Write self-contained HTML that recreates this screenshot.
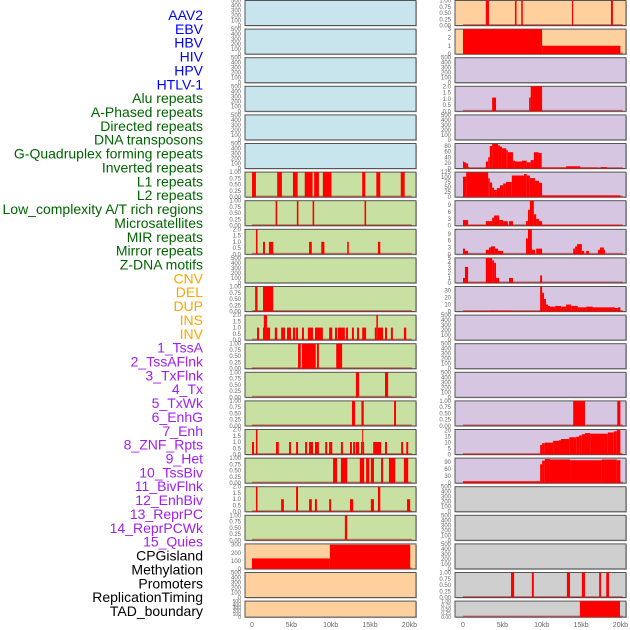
<!DOCTYPE html>
<html><head><meta charset="utf-8"><style>
body{margin:0;background:#fff;width:630px;height:630px;overflow:hidden}
svg{display:block}
</style></head><body>
<svg id="chart" width="630" height="630" font-family="Liberation Sans, sans-serif"></svg>
<script>
const trackLabels=["AAV2","EBV","HBV","HIV","HPV","HTLV-1","Alu repeats","A-Phased repeats","Directed repeats","DNA transposons","G-Quadruplex forming repeats","Inverted repeats","L1 repeats","L2 repeats","Low_complexity A/T rich regions","Microsatellites","MIR repeats","Mirror repeats","Z-DNA motifs","CNV","DEL","DUP","INS","INV","1_TssA","2_TssAFlnk","3_TxFlnk","4_Tx","5_TxWk","6_EnhG","7_Enh","8_ZNF_Rpts","9_Het","10_TssBiv","11_BivFlnk","12_EnhBiv","13_ReprPC","14_ReprPCWk","15_Quies","CPGisland","Methylation","Promoters","ReplicationTiming","TAD_boundary"];
const labelGroups=[6,13,5,15,5];
const groupColors=["#0000ff","#006400","#ffa500","#a020f0","#000000"];
const xTicks=[0,5,10,15,20];
const xTickLabels=["0","5kb","10kb","15kb","20kb"];
const leftFills=["b","b","b","b","b","b","g","g","g","g","g","g","g","g","g","g","g","g","g","o","o","o"];
const rightFills=["o","o","p","p","p","p","p","p","p","p","p","p","p","p","p","p","p","y","y","y","y","y"];
const leftMax=[500,500,500,500,500,500,1,1,2,500,1,2,1,1,1,2,1,2,1,310,500,500];
const rightMax=[1,3,500,2,500,89,125,11,11,5,36,500,500,500,1,21,106,500,500,500,1,1];
// segments [startKb, endKb, value]
const segL6=[[0,0.5,1],[3.2,3.8,1],[5.2,5.8,1],[6.7,7.7,1],[7.9,8.5,1],[9.0,10.1,1],[14.0,14.4,1],[15.8,16.3,1],[18.9,19.4,1]];
const segL7=[[3.0,3.2,1],[5.7,5.9,1],[7.7,7.9,1],[14.3,14.5,1]];
const segL8=[[0.5,0.7,2],[1.4,1.65,1],[2.15,2.7,1],[7.25,7.6,1],[8.8,9.2,1],[12.1,12.3,1],[16.0,16.3,1]];
const segL10=[[0.4,0.7,1],[1.4,2.7,1]];
const segL11=[[0.64,0.89,1],[1.4,1.5,1],[1.5,1.9,2],[1.9,2.3,1],[2.9,3.2,1],[3.7,4.2,1],[4.45,4.95,1],[5.2,5.5,1],[5.6,5.85,1],[6.35,6.6,1],[7.1,7.75,1],[8.0,9.0,1],[9.8,10.2,1],[10.55,10.8,1],[10.9,11.8,1],[11.95,12.2,1],[12.7,12.95,1],[13.35,13.6,1],[14.0,14.5,1],[15.6,15.8,1],[15.8,16.0,2],[16.0,16.65,1],[16.9,17.15,1],[17.65,17.9,1],[19.3,19.6,1]];
const segL12=[[5.85,6.2,1],[6.35,8.1,1],[8.25,8.5,1],[10.7,11.45,1]];
const segL13=[[13.2,13.6,1],[16.9,17.3,1]];
const segL14=[[12.7,13.1,1],[13.9,14.2,1],[18.05,18.3,1]];
const segL15=[[0,0.25,1],[0.5,0.7,2],[3.05,3.4,1],[4.7,4.95,1],[5.6,5.85,1],[6.75,7.0,1],[7.25,7.75,1],[8.0,8.5,1],[9.3,9.55,1],[9.8,10.2,1],[11.3,11.55,1],[12.45,12.7,1],[12.85,13.1,1],[13.2,13.6,1],[13.85,14.0,1],[14.0,14.1,2],[14.1,14.25,1],[15.4,16.4,1],[16.9,17.15,1],[18.95,19.2,1],[19.6,19.85,1]];
const segL16=[[10.3,10.8,1],[11.3,12.1,1],[13.7,14.25,1],[14.5,14.9,1],[15.1,15.5,1],[16.4,16.65,1],[17.4,18.2,1],[19.3,19.85,1]];
const segL17=[[0.5,0.7,2],[3.7,4.05,1],[5.6,5.85,2],[7.25,7.6,1],[8.0,8.25,1],[9.8,10.05,1],[12.45,12.85,1],[15.1,15.5,1],[16.0,16.3,2],[19.7,20.1,1]];
const segL18=[[11.8,12.1,1]];
const segL19=[[0,9.9,130],[9.9,20.1,300]];
const segR0=[[2.9,3.3,1],[6.6,6.8,1],[7.4,7.6,1],[13.85,14.0,1],[18.8,19.05,1]];
const segR1=[[0,10.05,3],[10.05,20.0,1]];
const segR3=[[3.7,4.2,1.1],[8.4,8.6,1.1],[8.6,10.05,2]];
const segR5=[[0,0.1,25],[0.1,0.4,22],[0.4,0.65,18],[0.65,0.75,5],[0.75,2.9,1],[2.9,3.2,25],[3.2,3.4,40],[3.4,3.7,80],[3.7,4.45,88],[4.45,4.7,82],[4.7,4.95,78],[4.95,5.5,72],[5.5,5.7,65],[5.7,6.35,58],[6.35,6.6,28],[6.6,7.5,25],[7.5,8.1,28],[8.1,8.6,22],[8.6,9.0,30],[9.0,9.6,58],[9.6,10.0,55],[10.0,13.1,3],[13.1,14.9,8],[14.9,17.0,3],[17.5,18.3,5]];
const segR6=[[0,0.4,102],[0.4,3.2,123],[3.2,3.4,94],[3.4,3.7,73],[3.7,3.95,47],[3.95,4.3,36],[4.3,4.7,45],[4.7,5.1,59],[5.1,5.45,68],[5.45,6.2,76],[6.2,7.75,108],[7.75,8.1,115],[8.1,8.5,108],[8.5,9.15,95],[9.15,9.65,82],[9.65,10.05,71],[10.05,20.0,9]];
const segR7=[[0,0.65,2.5],[0.65,2.9,0.3],[2.9,3.7,2],[3.7,3.95,3.5],[3.95,4.6,4.5],[4.6,5.1,2.5],[5.1,5.7,2],[5.85,6.35,2],[8.0,8.25,2],[8.25,8.5,7],[8.5,9.0,11],[9.0,9.3,5],[9.3,9.65,3],[9.65,10.05,2],[10.05,20,0.3]];
const segR8=[[0,0.25,2.5],[0.25,0.65,1.5],[2.9,3.3,2],[3.3,3.55,3],[3.55,4.05,3.5],[4.05,4.45,2.5],[4.45,5.1,1.5],[8.0,8.25,7],[8.25,8.75,11],[8.75,9.15,2],[9.3,10.05,2.5],[14.0,14.25,2.5],[14.25,14.5,3.5],[14.5,15.1,4.5],[15.1,15.4,1.5],[15.65,16.0,1.5],[17.15,17.4,2],[17.4,17.9,3],[17.9,18.05,2]];
const segR9=[[0,0.25,1],[0.25,0.65,3.2],[0.65,2.9,0.1],[2.9,3.7,5],[3.7,3.95,4.5],[3.95,4.2,4],[4.2,4.6,1],[5.85,6.35,1],[9.8,10.05,1.5]];
const segR10=[[0,3.4,0.5],[3.4,6.1,1],[6.1,9.8,0.5],[9.8,10.05,36],[10.05,10.3,27],[10.3,10.55,18],[10.55,10.8,10],[10.8,11.05,8],[11.05,11.7,7],[11.7,12.45,8],[12.45,13.1,7],[13.1,13.75,10],[13.75,14.6,8],[14.6,15.65,6],[15.65,16.5,7],[16.5,19.3,6],[19.3,19.7,5],[19.7,20,6]];
const segR14=[[14.0,15.5,1],[19.6,20.0,1]];
const segR15=[[0,9.8,0.3],[9.8,10.05,8],[10.05,10.4,9.5],[10.4,11.45,10],[11.45,12.2,11.5],[12.2,12.45,12],[12.45,13.5,13],[13.5,14.4,14.5],[14.4,14.75,15],[14.75,15.1,16],[15.1,15.5,17],[15.5,16.15,18],[16.15,18.4,17.5],[18.4,19.15,18.5],[19.15,19.55,19.5],[19.55,20,20.5]];
const segR16=[[0,9.8,8],[9.8,10.05,80],[10.05,10.4,95],[10.4,11.05,102],[11.05,13.6,100],[13.6,17.65,97],[17.65,19.55,100],[19.55,20,97]];
const segR20=[[6.1,6.5,1],[8.75,9.0,1],[13.2,13.6,1],[15.1,15.5,1],[17.3,17.55,1],[18.2,18.55,1]];
const segR21=[[14.85,19.95,1]];
const leftSegs={6:segL6,7:segL7,8:segL8,10:segL10,11:segL11,12:segL12,13:segL13,14:segL14,15:segL15,16:segL16,17:segL17,18:segL18,19:segL19};
const rightSegs={0:segR0,1:segR1,3:segR3,5:segR5,6:segR6,7:segR7,8:segR8,9:segR9,10:segR10,14:segR14,15:segR15,16:segR16,20:segR20,21:segR21};

const NS="http://www.w3.org/2000/svg";
const svg=document.getElementById('chart');
const fillMap={b:"#c8e4ec",g:"#c8e0a2",o:"#fed09e",p:"#d6c6e2",y:"#cfcfcf"};
function mk(tag,attrs,parent){const e=document.createElementNS(NS,tag);for(const k in attrs)e.setAttribute(k,attrs[k]);(parent||svg).appendChild(e);return e;}
function rowTop(i){return 0.5+i*28.6;}
function rowH(i){return i===21?16:25;}
function ticksFor(m){
  if(m===1)return [[0,"0.00"],[0.25,"0.25"],[0.5,"0.50"],[0.75,"0.75"],[1,"1.00"]];
  if(m===2)return [[0,"0.0"],[0.5,"0.5"],[1,"1.0"],[1.5,"1.5"],[2,"2.0"]];
  if(m===3)return [[0,"0"],[1,"1"],[2,"2"],[3,"3"]];
  if(m===5)return [[0,"0"],[1,"1"],[2,"2"],[3,"3"],[4,"4"],[5,"5"]];
  if(m===11)return [[0,"0"],[3,"3"],[6,"6"],[9,"9"]];
  if(m===36)return [[0,"0"],[10,"10"],[20,"20"],[30,"30"]];
  if(m===21)return [[0,"0"],[5,"5"],[10,"10"],[15,"15"],[20,"20"]];
  if(m===89)return [[0,"0"],[20,"20"],[40,"40"],[60,"60"],[80,"80"]];
  if(m===125)return [[0,"0"],[25,"25"],[50,"50"],[75,"75"],[100,"100"],[125,"125"]];
  if(m===106)return [[0,"0"],[30,"30"],[60,"60"],[90,"90"]];
  if(m===310)return [[0,"0"],[100,"100"],[200,"200"],[300,"300"]];
  return [[0,"0"],[100,"100"],[200,"200"],[300,"300"],[400,"400"],[500,"500"]];
}
function drawPanel(side,i,fills,maxes,segs){
  const px=side==="left"?245:455, x0=side==="left"?252:463, w=171, k=7.87;
  const t=rowTop(i), h=rowH(i), m=maxes[i];
  const g=mk('g',{});
  
  
  mk('rect',{x:px+1,y:t+1,width:w,height:h,fill:"#bbb"},g);
  mk('rect',{x:px,y:t,width:w,height:h,fill:fillMap[fills[i]],stroke:"#555","stroke-width":1},g);
  const sx=v=>x0+v*k, sy=v=>t+h-v/m*h;
  const s=segs[i];
  if(s){
    mk('rect',{x:sx(0),y:t+h-1.5,width:sx(20.3)-sx(0),height:1.5,fill:"rgba(170,0,0,0.45)"},g);
    s.forEach(d=>{
      const r=mk('rect',{x:sx(d[0]),y:sy(d[2]),width:Math.max(1,sx(d[1])-sx(d[0])),height:t+h-sy(d[2]),fill:"#ff0000"},g);
      
      
    });
  }
  const fs=h<20?5:6;
  ticksFor(m).forEach(tk=>{
    const tx=mk('text',{x:px-4,y:sy(tk[0])+2,"font-size":fs,fill:"#666","text-anchor":"end"},g);
    tx.textContent=tk[1];
    
    
  });
}
for(let i=0;i<22;i++){drawPanel("left",i,leftFills,leftMax,leftSegs);drawPanel("right",i,rightFills,rightMax,rightSegs);}
["left","right"].forEach(side=>{
  const x0=side==="left"?252:463;
  xTicks.forEach((v,j)=>{
    const tx=mk('text',{x:x0+v*7.87,y:627,"font-size":7,fill:"#666","text-anchor":"middle"});
    tx.textContent=xTickLabels[j];
    
    
  });
});
let idx=0;
labelGroups.forEach((n,gi)=>{
  for(let j=0;j<n;j++){
    const tx=mk('text',{x:203,y:15+idx*13.86+5,"font-size":14,fill:groupColors[gi],"text-anchor":"end"});
    tx.textContent=trackLabels[idx];
    
    
    idx++;
  }
});
</script>
</body></html>
